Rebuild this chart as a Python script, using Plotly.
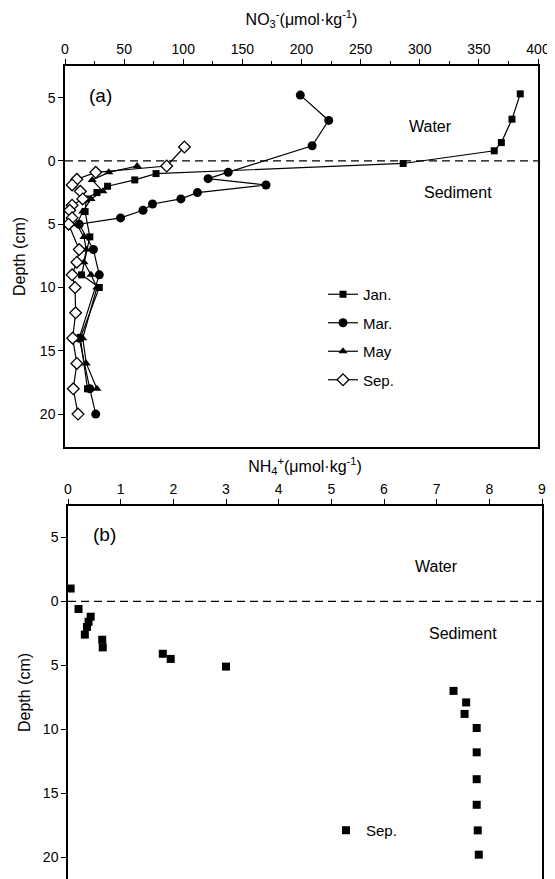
import plotly.graph_objects as go

# ---------- Panel (a): NO3- profiles ----------
jan_depth = [-5.3, -3.3, -1.45, -0.8, 0.2, 1.0, 1.5, 2.0, 2.5, 3.0, 4.0, 6.0, 9.0, 10.0, 14.0, 18.0]
jan_no3 = [385, 378, 369, 363, 286, 77, 59, 36, 27, 18, 17, 21, 14, 29, 13, 19]

mar_depth = [-5.2, -3.2, -1.2, 0.9, 1.4, 1.9, 2.5, 3.0, 3.4, 3.9, 4.5, 5.0, 7.0, 9.0, 14.0, 18.0, 20.0]
mar_no3 = [199, 223, 209, 138, 121, 170, 112, 98, 74, 66, 47, 12, 24, 29, 12, 21, 26]

may_depth = [0.4, 0.9, 1.5, 2.4, 3.0, 4.0, 5.0, 6.0, 7.0, 8.0, 9.0, 10.0, 14.0, 16.0, 18.0]
may_no3 = [61, 37, 23, 32, 22, 15, 10, 16, 18, 16, 22, 27, 15, 18, 27]

sep_depth = [-1.1, 0.4, 0.9, 1.45, 1.9, 2.4, 3.0, 3.5, 3.9, 4.5, 5.0, 7.0, 8.0, 9.0, 10.0, 12.0, 14.0, 16.0, 18.0, 20.0]
sep_no3 = [101, 86, 26, 10, 6, 13, 15, 6, 4, 6, 3, 12, 10, 6, 8.5, 9, 6.5, 10, 7, 11]

# ---------- Panel (b): NH4+ profile (Sep.) ----------
nh4_depth = [-1.0, 0.6, 1.2, 1.6, 2.0, 2.6, 3.0, 3.6, 4.1, 4.5, 5.1, 7.0, 7.9, 8.8, 9.9, 11.8, 13.9, 15.9, 17.9, 19.8]
nh4_val = [0.05, 0.2, 0.43, 0.39, 0.36, 0.32, 0.65, 0.66, 1.8, 1.95, 3.0, 7.32, 7.56, 7.53, 7.76, 7.76, 7.76, 7.76, 7.78, 7.8]

depth_ticks = [-5, 0, 5, 10, 15, 20]
depth_ticktext = ["5", "0", "5", "10", "15", "20"]
no3_ticks = [0, 50, 100, 150, 200, 250, 300, 350, 400]
nh4_ticks = [0, 1, 2, 3, 4, 5, 6, 7, 8, 9]

# page has an 8px body margin; figure sized to fill the rest of the window
OFF = 8
W, H = 555 - OFF, 879 - OFF
FONT = "Liberation Sans, Arial, sans-serif"


def px_x(p):
    return (p - OFF) / W


def px_y(p):
    return 1 - (p - OFF) / H


fig = go.Figure()
line = dict(color="black", width=1.2)

fig.add_trace(go.Scatter(x=jan_no3, y=jan_depth, mode="lines+markers", name="Jan.",
                         line=line, marker=dict(symbol="square", size=7, color="black"),
                         xaxis="x", yaxis="y", legend="legend", legendgroup="a1"))
fig.add_trace(go.Scatter(x=mar_no3, y=mar_depth, mode="lines+markers", name="Mar.",
                         line=line, marker=dict(symbol="circle", size=9, color="black"),
                         xaxis="x", yaxis="y", legend="legend", legendgroup="a2"))
fig.add_trace(go.Scatter(x=may_no3, y=may_depth, mode="lines+markers", name="May",
                         line=line, marker=dict(symbol="triangle-up", size=8, color="black"),
                         xaxis="x", yaxis="y", legend="legend", legendgroup="a3"))
fig.add_trace(go.Scatter(x=sep_no3, y=sep_depth, mode="lines+markers", name="Sep.",
                         line=line, marker=dict(symbol="diamond", size=9, color="white",
                                                line=dict(color="black", width=1.3)),
                         xaxis="x", yaxis="y", legend="legend", legendgroup="a4"))

fig.add_trace(go.Scatter(x=nh4_val, y=nh4_depth, mode="markers", name="Sep.",
                         marker=dict(symbol="square", size=8, color="black"),
                         xaxis="x2", yaxis="y2", legend="legend2"))

axis_common = dict(showline=True, linecolor="black", linewidth=1.5, showgrid=False,
                   zeroline=False, ticks="outside", tickcolor="black", ticklen=5,
                   automargin=False,
                   tickfont=dict(family=FONT, size=14, color="black"))

xa_dom = [px_x(65), px_x(538)]
ya_dom = [px_y(447), px_y(66)]
xb_dom = [px_x(68), px_x(542)]
yb_dom = [0, px_y(506)]

fig.update_layout(
    width=W, height=H,
    margin=dict(l=0, r=0, t=0, b=0),
    paper_bgcolor="white", plot_bgcolor="white",
    font=dict(family=FONT, size=14, color="black"),
    xaxis=dict(axis_common, domain=xa_dom, range=[0, 400], side="top", anchor="y",
               mirror=True, tickvals=no3_ticks,
               minor=dict(dtick=25, ticks="outside", ticklen=3, tickcolor="black"),
               title=dict(text="NO<sub>3</sub><sup>-</sup>(μmol·kg<sup>-1</sup>)",
                          font=dict(family=FONT, size=16), standoff=11)),
    yaxis=dict(axis_common, domain=ya_dom, range=[22.6, -7.5], anchor="x", mirror=True,
               tickvals=depth_ticks, ticktext=depth_ticktext,
               title=dict(text="Depth (cm)", font=dict(family=FONT, size=16), standoff=10)),
    xaxis2=dict(axis_common, domain=xb_dom, range=[0, 9], side="top", anchor="y2",
                mirror=False, tickvals=nh4_ticks,
                title=dict(text="NH<sub>4</sub><sup>+</sup>(μmol·kg<sup>-1</sup>)",
                           font=dict(family=FONT, size=16), standoff=4)),
    yaxis2=dict(axis_common, domain=yb_dom, range=[21.7, -7.45], anchor="x2", mirror=True,
                tickvals=depth_ticks, ticktext=depth_ticktext,
                title=dict(text="Depth (cm)", font=dict(family=FONT, size=16), standoff=8)),
    legend=dict(x=px_x(323), xanchor="left", y=px_y(278), yanchor="top",
                bgcolor="rgba(0,0,0,0)", font=dict(family=FONT, size=15),
                tracegroupgap=6, itemwidth=30),
    legend2=dict(x=px_x(326), xanchor="left", y=px_y(814), yanchor="top",
                 bgcolor="rgba(0,0,0,0)", font=dict(family=FONT, size=15)),
    showlegend=True,
)

for xr, yr in (("x", "y"), ("x2", "y2")):
    fig.add_shape(type="line", xref=f"{xr} domain", yref=yr, x0=0, x1=1, y0=0, y1=0,
                  line=dict(color="black", width=1.3, dash="8px,5px"))

ann = dict(showarrow=False, font=dict(family=FONT, size=16, color="black"))
big = dict(family=FONT, size=19, color="black")
fig.add_annotation(text="(a)", x=30, y=-5.2, xref="x", yref="y", showarrow=False, font=big)
fig.add_annotation(text="Water", x=309, y=-2.7, xref="x", yref="y", **ann)
fig.add_annotation(text="Sediment", x=332, y=2.5, xref="x", yref="y", **ann)
fig.add_annotation(text="(b)", x=0.7, y=-5.2, xref="x2", yref="y2", showarrow=False, font=big)
fig.add_annotation(text="Water", x=7.0, y=-2.7, xref="x2", yref="y2", **ann)
fig.add_annotation(text="Sediment", x=7.5, y=2.5, xref="x2", yref="y2", **ann)

fig.write_html("out.html")
